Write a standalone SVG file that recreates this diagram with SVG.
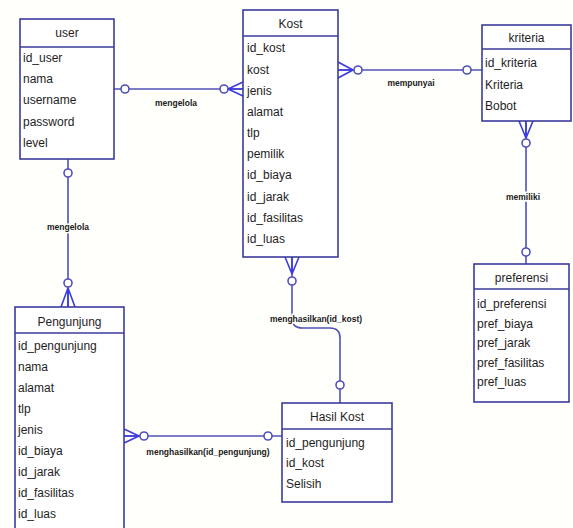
<svg xmlns="http://www.w3.org/2000/svg" width="573" height="528" viewBox="0 0 573 528">
<style>
.box{fill:#ffffff;stroke:#3b3b9e;stroke-width:1.6}
.div{stroke:#3b3b9e;stroke-width:1.6}
.t{font-family:"Liberation Sans",Arial,sans-serif;font-size:12px;fill:#1e1e1e}
.h{text-anchor:middle}
.con{fill:none;stroke:#5050b8;stroke-width:1.6}
.cf{fill:none;stroke:#3b3be0;stroke-width:1.6}
.o{fill:#ffffff;stroke:#5050b8;stroke-width:1.6}
.lbl{font-family:"Liberation Sans",Arial,sans-serif;font-size:8.5px;font-weight:bold;fill:#202020;text-anchor:middle;stroke:#fffffb;stroke-width:3;paint-order:stroke}
</style>
<rect width="573" height="528" fill="#fffffb"/>
<g id="connectors">
  <!-- user - Kost -->
  <line class="con" x1="114" y1="89" x2="243" y2="89"/>
  <circle class="o" cx="125" cy="89" r="4"/>
  <circle class="o" cx="224" cy="89" r="4"/>
  <path class="cf" d="M228,89 L243,82 M228,89 L243,89 M228,89 L243,96"/>
  <text class="lbl" x="176" y="106">mengelola</text>
  <!-- Kost - kriteria -->
  <line class="con" x1="338" y1="70" x2="482" y2="70"/>
  <path class="cf" d="M338,62 L353,70 M338,70 L353,70 M338,78 L353,70"/>
  <circle class="o" cx="358" cy="70" r="4"/>
  <circle class="o" cx="467" cy="70" r="4"/>
  <text class="lbl" x="411" y="86">mempunyai</text>
  <!-- kriteria - preferensi -->
  <line class="con" x1="526" y1="121" x2="526" y2="264"/>
  <path class="cf" d="M519,121 L526,138 M526,121 L526,138 M533,121 L526,138"/>
  <circle class="o" cx="526" cy="143" r="4"/>
  <circle class="o" cx="526" cy="252" r="4"/>
  <text class="lbl" x="523" y="200">memiliki</text>
  <!-- user - Pengunjung -->
  <line class="con" x1="68" y1="159" x2="68" y2="307"/>
  <circle class="o" cx="68" cy="173" r="4"/>
  <circle class="o" cx="68" cy="283" r="4"/>
  <path class="cf" d="M68,288 L61,307 M68,288 L68,307 M68,288 L75,307"/>
  <text class="lbl" x="68" y="230">mengelola</text>
  <!-- Pengunjung - Hasil Kost -->
  <line class="con" x1="124" y1="436" x2="282" y2="436"/>
  <path class="cf" d="M124,429 L139,436 M124,436 L139,436 M124,443 L139,436"/>
  <circle class="o" cx="144" cy="436" r="4"/>
  <circle class="o" cx="268" cy="436" r="4"/>
  <text class="lbl" x="208" y="455">menghasilkan(id_pengunjung)</text>
  <!-- Kost - Hasil Kost -->
  <path class="con" d="M292,257 L292,318 Q292,328 302,328 L330,328 Q340,328 340,338 L340,403"/>
  <path class="cf" d="M285,257 L292,274 M292,257 L292,274 M299,257 L292,274"/>
  <circle class="o" cx="292" cy="281" r="4"/>
  <circle class="o" cx="340" cy="385" r="4"/>
  <text class="lbl" x="316" y="322">menghasilkan(id_kost)</text>
</g>
<g id="user">
  <rect class="box" x="20" y="19" width="94" height="140"/>
  <line class="div" x1="20" y1="47" x2="114" y2="47"/>
  <text class="t h" x="67" y="37">user</text>
  <text class="t" x="23" y="62">id_user</text>
  <text class="t" x="23" y="83">nama</text>
  <text class="t" x="23" y="104">username</text>
  <text class="t" x="23" y="126">password</text>
  <text class="t" x="23" y="147">level</text>
</g>
<g id="kost">
  <rect class="box" x="243" y="10" width="95" height="247"/>
  <line class="div" x1="243" y1="36" x2="338" y2="36"/>
  <text class="t h" x="290.5" y="28">Kost</text>
  <text class="t" x="247" y="52">id_kost</text>
  <text class="t" x="247" y="74">kost</text>
  <text class="t" x="247" y="95">jenis</text>
  <text class="t" x="247" y="116">alamat</text>
  <text class="t" x="247" y="137">tlp</text>
  <text class="t" x="247" y="158">pemilik</text>
  <text class="t" x="247" y="179">id_biaya</text>
  <text class="t" x="247" y="201">id_jarak</text>
  <text class="t" x="247" y="222">id_fasilitas</text>
  <text class="t" x="247" y="243">id_luas</text>
</g>
<g id="kriteria">
  <rect class="box" x="482" y="25" width="89" height="96"/>
  <line class="div" x1="482" y1="49" x2="571" y2="49"/>
  <text class="t h" x="526.5" y="42">kriteria</text>
  <text class="t" x="485" y="67">id_kriteria</text>
  <text class="t" x="485" y="89">Kriteria</text>
  <text class="t" x="485" y="110">Bobot</text>
</g>
<g id="preferensi">
  <rect class="box" x="474" y="264" width="95" height="138"/>
  <line class="div" x1="474" y1="289" x2="569" y2="289"/>
  <text class="t h" x="521.5" y="282">preferensi</text>
  <text class="t" x="477" y="308">id_preferensi</text>
  <text class="t" x="477" y="328">pref_biaya</text>
  <text class="t" x="477" y="347">pref_jarak</text>
  <text class="t" x="477" y="367">pref_fasilitas</text>
  <text class="t" x="477" y="386">pref_luas</text>
</g>
<g id="pengunjung">
  <rect class="box" x="15" y="307" width="109" height="235"/>
  <line class="div" x1="15" y1="333" x2="124" y2="333"/>
  <text class="t h" x="69.5" y="326">Pengunjung</text>
  <text class="t" x="18" y="350">id_pengunjung</text>
  <text class="t" x="18" y="371">nama</text>
  <text class="t" x="18" y="392">alamat</text>
  <text class="t" x="18" y="413">tlp</text>
  <text class="t" x="18" y="434">jenis</text>
  <text class="t" x="18" y="455">id_biaya</text>
  <text class="t" x="18" y="476">id_jarak</text>
  <text class="t" x="18" y="497">id_fasilitas</text>
  <text class="t" x="18" y="518">id_luas</text>
</g>
<g id="hasil_kost">
  <rect class="box" x="282" y="403" width="110" height="99"/>
  <line class="div" x1="282" y1="429" x2="392" y2="429"/>
  <text class="t h" x="337" y="421">Hasil Kost</text>
  <text class="t" x="286" y="447">id_pengunjung</text>
  <text class="t" x="286" y="467">id_kost</text>
  <text class="t" x="286" y="488">Selisih</text>
</g>
</svg>
